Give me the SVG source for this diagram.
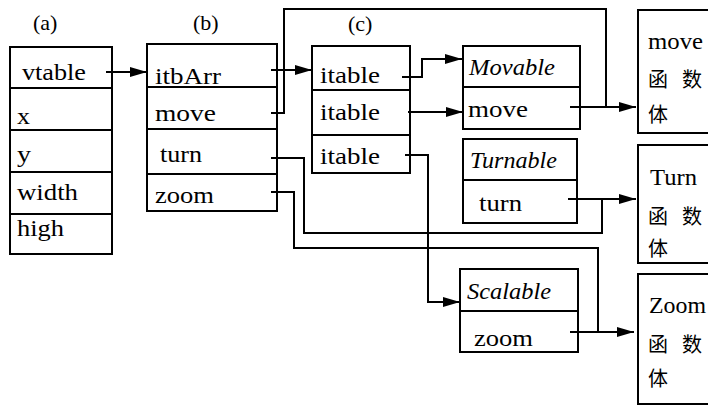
<svg xmlns="http://www.w3.org/2000/svg" width="708" height="405" viewBox="0 0 708 405">
  <defs>
    <marker id="arrow" markerUnits="userSpaceOnUse" markerWidth="18" markerHeight="10" refX="17" refY="5" orient="auto">
      <path d="M0,0 L17,5 L0,10 z" fill="#000"/>
    </marker>
    <style>
      .box{fill:#fff;stroke:#000;stroke-width:2}
      .div{stroke:#000;stroke-width:2}
      .t{font-family:'Liberation Serif','Times New Roman',serif;font-size:23px;fill:#000}
      .it{font-style:italic}
      .lbl{font-size:22px}
      .cjk{font-family:'Noto Sans CJK SC','Noto Sans CJK JP',sans-serif;font-size:20px;fill:#000}
      .wire{fill:none;stroke:#000;stroke-width:2}
    </style>
  </defs>

  <!-- panel labels -->
  <g id="labels">
    <text class="t lbl" x="33" y="30">(a)</text>
    <text class="t lbl" x="193" y="30">(b)</text>
    <text class="t lbl" x="348" y="31">(c)</text>
  </g>

  <!-- (a) object layout -->
  <g id="object">
    <rect class="box" x="10" y="47" width="102" height="207"/>
    <line class="div" x1="10" y1="88" x2="112" y2="88"/>
    <line class="div" x1="10" y1="130" x2="112" y2="130"/>
    <line class="div" x1="10" y1="172" x2="112" y2="172"/>
    <line class="div" x1="10" y1="214" x2="112" y2="214"/>
    <text class="t" x="22" y="80" textLength="64" lengthAdjust="spacingAndGlyphs">vtable</text>
    <text class="t" x="17" y="124" textLength="13" lengthAdjust="spacingAndGlyphs">x</text>
    <text class="t" x="17" y="162" textLength="14" lengthAdjust="spacingAndGlyphs">y</text>
    <text class="t" x="17" y="200" textLength="61" lengthAdjust="spacingAndGlyphs">width</text>
    <text class="t" x="17" y="236" textLength="47" lengthAdjust="spacingAndGlyphs">high</text>
  </g>

  <!-- (b) virtual table -->
  <g id="vtable">
    <rect class="box" x="147" y="44" width="130" height="167"/>
    <line class="div" x1="147" y1="87" x2="277" y2="87"/>
    <line class="div" x1="147" y1="129" x2="277" y2="129"/>
    <line class="div" x1="147" y1="174" x2="277" y2="174"/>
    <text class="t" x="155" y="84" textLength="66" lengthAdjust="spacingAndGlyphs">itbArr</text>
    <text class="t" x="155" y="121" textLength="61" lengthAdjust="spacingAndGlyphs">move</text>
    <text class="t" x="160" y="162" textLength="42" lengthAdjust="spacingAndGlyphs">turn</text>
    <text class="t" x="155" y="203" textLength="59" lengthAdjust="spacingAndGlyphs">zoom</text>
  </g>

  <!-- (c) interface table array -->
  <g id="itbArr">
    <rect class="box" x="312" y="46" width="98" height="127"/>
    <line class="div" x1="312" y1="90" x2="410" y2="90"/>
    <line class="div" x1="312" y1="135" x2="410" y2="135"/>
    <text class="t" x="320" y="83" textLength="60" lengthAdjust="spacingAndGlyphs">itable</text>
    <text class="t" x="320" y="120" textLength="60" lengthAdjust="spacingAndGlyphs">itable</text>
    <text class="t" x="320" y="164" textLength="60" lengthAdjust="spacingAndGlyphs">itable</text>
  </g>

  <!-- interface tables -->
  <g id="movable">
    <rect class="box" x="463" y="46" width="117" height="83"/>
    <line class="div" x1="463" y1="87" x2="580" y2="87"/>
    <text class="t it" x="469" y="75" textLength="86" lengthAdjust="spacingAndGlyphs">Movable</text>
    <text class="t" x="468" y="117" textLength="60" lengthAdjust="spacingAndGlyphs">move</text>
  </g>
  <g id="turnable">
    <rect class="box" x="463" y="139" width="114" height="84"/>
    <line class="div" x1="463" y1="180" x2="577" y2="180"/>
    <text class="t it" x="470" y="168" textLength="87" lengthAdjust="spacingAndGlyphs">Turnable</text>
    <text class="t" x="479" y="211" textLength="43" lengthAdjust="spacingAndGlyphs">turn</text>
  </g>
  <g id="scalable">
    <rect class="box" x="460" y="269" width="118" height="83"/>
    <line class="div" x1="460" y1="311" x2="578" y2="311"/>
    <text class="t it" x="467" y="299" textLength="84" lengthAdjust="spacingAndGlyphs">Scalable</text>
    <text class="t" x="474" y="346" textLength="59" lengthAdjust="spacingAndGlyphs">zoom</text>
  </g>

  <!-- function bodies -->
  <g id="move-body">
    <rect class="box" x="638" y="10" width="80" height="123"/>
    <text class="t" x="648" y="49" textLength="55" lengthAdjust="spacingAndGlyphs">move</text>
    <text class="cjk" x="648 668 682" y="87">函 数</text>
    <text class="cjk" x="648" y="122">体</text>
  </g>
  <g id="turn-body">
    <rect class="box" x="638" y="145" width="80" height="118"/>
    <text class="t" x="650" y="185" textLength="47" lengthAdjust="spacingAndGlyphs">Turn</text>
    <text class="cjk" x="648 668 682" y="224">函 数</text>
    <text class="cjk" x="648" y="256">体</text>
  </g>
  <g id="zoom-body">
    <rect class="box" x="638" y="274" width="80" height="130"/>
    <text class="t" x="649" y="313" textLength="57" lengthAdjust="spacingAndGlyphs">Zoom</text>
    <text class="cjk" x="648 668 682" y="352">函 数</text>
    <text class="cjk" x="648" y="386">体</text>
  </g>

  <!-- connectors -->
  <g id="connectors">
    <path class="wire" d="M106,72 H147" marker-end="url(#arrow)"/>
    <path class="wire" d="M271,70 H312" marker-end="url(#arrow)"/>
    <path class="wire" d="M271,113 H284 V9 H606 V107"/>
    <path class="wire" d="M570,107 H636" marker-end="url(#arrow)"/>
    <path class="wire" d="M271,158 H304 V233 H602 V199"/>
    <path class="wire" d="M568,199 H636" marker-end="url(#arrow)"/>
    <path class="wire" d="M271,192 H294 V248 H598 V332"/>
    <path class="wire" d="M570,332 H634" marker-end="url(#arrow)"/>
    <path class="wire" d="M402,77 H422 V59 H462" marker-end="url(#arrow)"/>
    <path class="wire" d="M408,112 H463" marker-end="url(#arrow)"/>
    <path class="wire" d="M405,155 H428 V302 H460" marker-end="url(#arrow)"/>
  </g>
</svg>
